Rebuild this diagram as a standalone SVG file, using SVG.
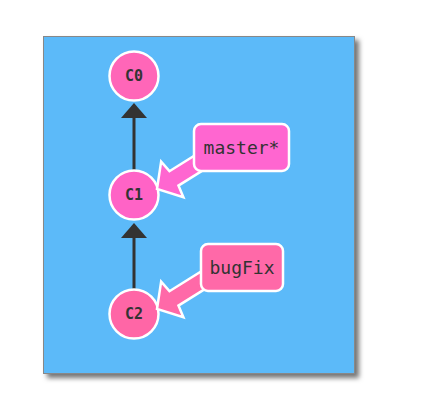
<svg xmlns="http://www.w3.org/2000/svg" width="421" height="405" viewBox="0 0 421 405">
  <defs>
    <filter id="shadow" x="-10%" y="-10%" width="130%" height="130%">
      <feDropShadow dx="4" dy="4" stdDeviation="2.5" flood-color="#000" flood-opacity="0.55"/>
    </filter>
    <style>
      .commit circle { stroke: #fff; stroke-width: 2.5; }
      .commit text { font-family: "DejaVu Sans Mono", "Liberation Mono", monospace; font-size: 15px; font-weight: 600; fill: #333; text-anchor: middle; dominant-baseline: central; }
      .branch rect { stroke: #fff; stroke-width: 2.5; }
      .branch path { stroke: #fff; stroke-width: 2.5; stroke-linejoin: miter; }
      .branch text { font-family: "DejaVu Sans Mono", "Liberation Mono", monospace; font-size: 18px; fill: #333; text-anchor: middle; dominant-baseline: central; }
      .edge line { stroke: #333; stroke-width: 3; }
      .edge polygon { fill: #333; }
    </style>
  </defs>
  <rect x="0" y="0" width="421" height="405" fill="#fff"/>
  <rect x="43.5" y="36.5" width="311" height="337" fill="#5cbaf9" stroke="#888" stroke-width="1" filter="url(#shadow)"/>

  <g id="connectors">
    <g class="edge">
      <line x1="134" y1="172" x2="134" y2="116"/>
      <polygon points="134,103 121,118 147,118"/>
    </g>
    <g class="edge">
      <line x1="134" y1="291" x2="134" y2="236"/>
      <polygon points="134,223 121,238 147,238"/>
    </g>
  </g>

  <g id="C0" class="commit">
    <circle cx="134" cy="76" r="24.5" fill="#ff66b8"/>
    <text x="134" y="76">C0</text>
  </g>
  <g id="C1" class="commit">
    <circle cx="134" cy="195" r="24.5" fill="#ff63c6"/>
    <text x="134" y="195">C1</text>
  </g>
  <g id="C2" class="commit">
    <circle cx="134" cy="314" r="24.5" fill="#ff66a6"/>
    <text x="134" y="314">C2</text>
  </g>

  <g id="master" class="branch">
    <path transform="translate(157,189) rotate(-32)" d="M0,0 L18,-21 L20,-8.5 L62,-8.5 L62,8.5 L20,8.5 L18,21 Z" fill="#ff66d0"/>
    <rect x="194" y="124" width="95" height="47" rx="7" fill="#ff66d0"/>
    <text x="241.5" y="147.5">master*</text>
  </g>
  <g id="bugFix" class="branch">
    <path transform="translate(157,309) rotate(-32)" d="M0,0 L18,-21 L20,-8.5 L62,-8.5 L62,8.5 L20,8.5 L18,21 Z" fill="#ff69a8"/>
    <rect x="201" y="244" width="82" height="47" rx="7" fill="#ff69a8"/>
    <text x="242" y="267.5">bugFix</text>
  </g>
</svg>
